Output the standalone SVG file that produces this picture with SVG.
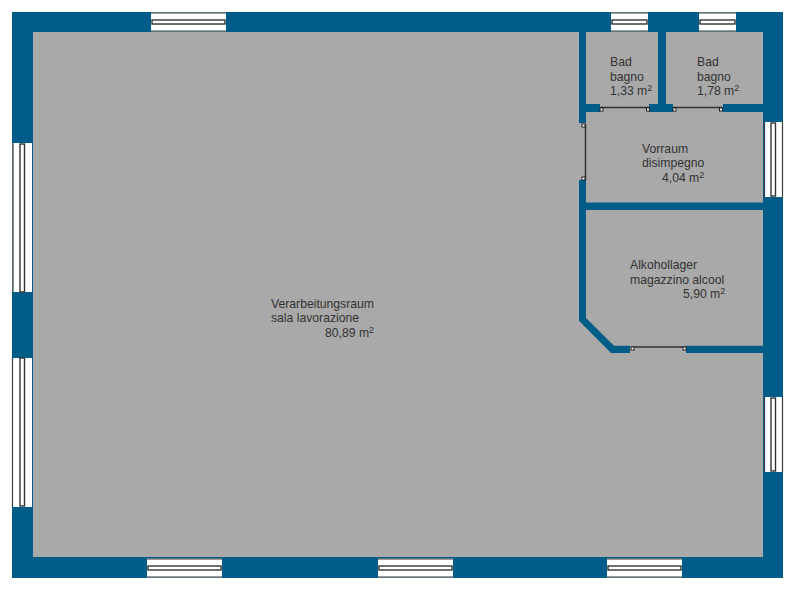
<svg xmlns="http://www.w3.org/2000/svg" width="800" height="589" viewBox="0 0 800 589">
<style>
.floor{fill:#a9a9a9}
.wall{fill:#005d87}
.pane{fill:#fff;stroke:none}
.edge{stroke:#3c3c3c;stroke-width:1.2;fill:none}
.sash{fill:#fff;stroke:#333;stroke-width:1.4}
.door{stroke:#333;stroke-width:1.5;fill:none}
.hinge{fill:#fff;stroke:#222;stroke-width:1}
text{font-family:"Liberation Sans",Arial,sans-serif;font-size:12.2px;fill:#333}
.sup{font-size:9px}
</style>
<defs>
<g id="winH">
<rect class="pane" x="0" y="0" width="75" height="19"/>
<path class="edge" d="M0 .5H75M0 18.5H75"/>
<rect class="sash" x="1" y="7.5" width="73" height="4"/>
</g>
<g id="winHs">
<rect class="pane" x="0" y="0" width="37" height="19"/>
<path class="edge" d="M0 .5H37M0 18.5H37"/>
<rect class="sash" x="1" y="7.5" width="35" height="4"/>
</g>
<g id="winV">
<rect class="pane" x="0" y="0" width="19" height="75"/>
<path class="edge" d="M.5 0V75M18.5 0V75"/>
<rect class="sash" x="7" y="1" width="4.5" height="73"/>
</g>
</defs>
<rect id="floor" class="floor" x="32" y="32" width="732" height="526"/>
<g id="walls">
<path class="wall" fill-rule="evenodd" d="M12 12H783V578H12ZM33 32V557H763V32Z"/>
<path class="wall" d="M579 32H586V123H579Z"/>
<path class="wall" d="M658 32H666V104H658Z"/>
<path class="wall" d="M579 104H600V112H579ZM649 104H673V112H649ZM723 104H763V112H723Z"/>
<path class="wall" d="M586 202.500H763V210H586Z"/>
<path class="wall" d="M579 180H586V318L614 345.700H630V353H611L579 320.700Z"/>
<path class="wall" d="M686 345.700H763V353H686Z"/>
</g>
<g id="windows">
<use href="#winH" x="151" y="12.500"/>
<use href="#winHs" x="611" y="12.500"/>
<use href="#winHs" x="699" y="12.500"/>
<use href="#winV" x="764" y="122"/>
<use href="#winV" x="764" y="397"/>
<rect class="pane" x="12.500" y="143" width="19.500" height="149"/>
<path class="edge" d="M13 143V292"/>
<rect class="sash" x="20" y="144" width="4.500" height="148"/>
<rect class="pane" x="12" y="358" width="20" height="149"/>
<path class="edge" d="M12.500 358V507"/>
<rect class="sash" x="20" y="358" width="4.500" height="148"/>
<use href="#winH" x="147" y="558.500"/>
<use href="#winH" x="378" y="558.500"/>
<use href="#winH" x="607" y="558.500"/>
</g>
<g id="doors">
<path class="door" d="M600 107.500H649M673 107.500H722.500M585.500 124V180M631 347H686"/>
<rect class="hinge" x="600" y="108" width="3" height="3"/>
<rect class="hinge" x="646.500" y="108" width="3" height="3"/>
<rect class="hinge" x="673" y="108" width="3" height="3"/>
<rect class="hinge" x="719.500" y="108" width="3" height="3"/>
<rect class="hinge" x="582" y="124" width="3" height="3"/>
<rect class="hinge" x="582" y="177" width="3" height="3"/>
<rect class="hinge" x="631" y="347" width="3" height="3"/>
<rect class="hinge" x="683" y="347" width="3" height="3"/>
</g>
<g id="room-main">
<text x="271" y="308">Verarbeitungsraum</text>
<text x="271" y="322">sala lavorazione</text>
<text x="325" y="336.500">80,89 m<tspan class="sup" dy="-4">2</tspan></text>
</g>
<g id="room-bad1">
<text x="610" y="66">Bad</text>
<text x="610" y="80.500">bagno</text>
<text x="610" y="94.500">1,33 m<tspan class="sup" dy="-4">2</tspan></text>
</g>
<g id="room-bad2">
<text x="697" y="66">Bad</text>
<text x="697" y="80.500">bagno</text>
<text x="697" y="94.500">1,78 m<tspan class="sup" dy="-4">2</tspan></text>
</g>
<g id="room-vorraum">
<text x="642" y="153">Vorraum</text>
<text x="642" y="167">disimpegno</text>
<text x="662" y="181.500">4,04 m<tspan class="sup" dy="-4">2</tspan></text>
</g>
<g id="room-alkohol">
<text x="630" y="269">Alkohollager</text>
<text x="630" y="284">magazzino alcool</text>
<text x="683" y="298">5,90 m<tspan class="sup" dy="-4">2</tspan></text>
</g>
</svg>
